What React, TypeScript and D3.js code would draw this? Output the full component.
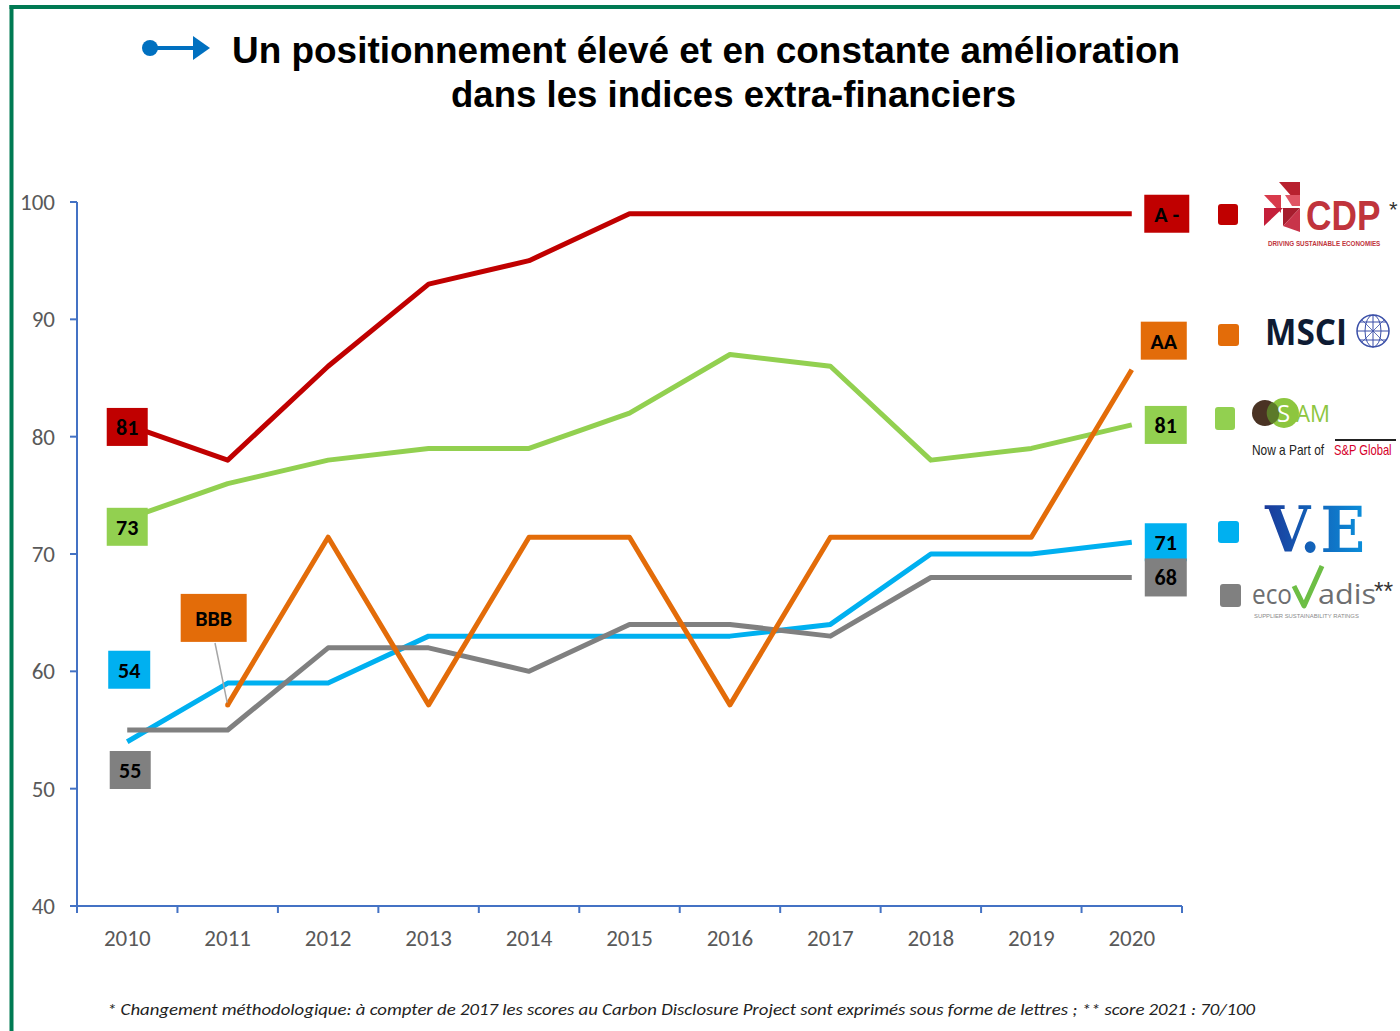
import React from "react";
import * as d3 from "d3";

const years = ["2010","2011","2012","2013","2014","2015","2016","2017","2018","2019","2020"];
const yTicks = [40, 50, 60, 70, 80, 90, 100];

const cdp = [81, 78, 86, 93, 95, 99, 99, 99, 99, 99, 99];
const sam = [73, 76, 78, 79, 79, 82, 87, 86, 78, 79, 81];
const msci: (number | null)[] = [null, 57.14, 71.43, 57.14, 71.43, 71.43, 57.14, 71.43, 71.43, 71.43, 85.71];
const ve = [54, 59, 59, 63, 63, 63, 63, 64, 70, 70, 71];
const ecovadis = [55, 55, 62, 62, 60, 64, 64, 63, 68, 68, 68];

const series = [
  { name: "CDP", color: "#C00000", values: cdp },
  { name: "SAM", color: "#92D050", values: sam },
  { name: "VE", color: "#00B0F0", values: ve },
  { name: "EcoVadis", color: "#808080", values: ecovadis },
  { name: "MSCI", color: "#E36C09", values: msci },
];

// data labels: year index, value, text, colour, offsets (dx, dy) relative to point
const labels = [
  { i: 0, v: 81, text: "81", color: "#C00000", dx: 0, dy: 2, w: 41 },
  { i: 0, v: 73, text: "73", color: "#92D050", dx: 0, dy: 8, w: 41 },
  { i: 0, v: 54, text: "54", color: "#00B0F0", dx: 2, dy: -72, w: 42 },
  { i: 0, v: 55, text: "55", color: "#808080", dx: 3, dy: 40, w: 41 },
  { i: 1, v: 57.14, text: "BBB", color: "#E36C09", dx: -14, dy: -87, w: 66, h: 48 },
  { i: 10, v: 99, text: "A -", color: "#C00000", dx: 35, dy: 0, w: 45 },
  { i: 10, v: 85.71, text: "AA", color: "#E36C09", dx: 32, dy: -29, w: 46 },
  { i: 10, v: 81, text: "81", color: "#92D050", dx: 34, dy: 0, w: 42 },
  { i: 10, v: 71, text: "71", color: "#00B0F0", dx: 34, dy: 0, w: 42 },
  { i: 10, v: 68, text: "68", color: "#808080", dx: 34, dy: 0, w: 42 },
];

const W = 1400, H = 1031;
const x = d3.scaleBand<string>().domain(years).range([77, 1182]);
const y = d3.scaleLinear().domain([40, 100]).range([906, 202]);
const cx = (i: number) => (x(years[i]) as number) + x.bandwidth() / 2;

const lineGen = d3
  .line<number | null>()
  .defined((d) => d !== null)
  .x((_, i) => cx(i))
  .y((d) => y(d as number));

const font = "Calibri, Carlito, 'Open Sans', 'Liberation Sans', sans-serif";

export default function App() {
  const boundaries = years.map((yr) => x(yr) as number).concat([x.range()[1]]);
  return (
    <div style={{ position: "absolute", left: 0, top: 0 }}>
      <svg width={W} height={H} style={{ display: "block", background: "#fff" }}>
        {/* frame */}
        <line x1={9.5} y1={7} x2={1400} y2={7} stroke="#007A53" strokeWidth={4} />
        <line x1={11.5} y1={5} x2={11.5} y2={1031} stroke="#007A53" strokeWidth={4} />

        {/* title arrow */}
        <circle cx={150} cy={48} r={8} fill="#0070C0" />
        <line x1={150} y1={48} x2={196} y2={48} stroke="#0070C0" strokeWidth={4} />
        <polygon points="193,36 210,48 193,60" fill="#0070C0" />
        <text x={232} y={63} fontFamily="'Liberation Sans', Arial, sans-serif" fontWeight="bold" fontSize={37} fill="#000" textLength={948} lengthAdjust="spacingAndGlyphs">
          Un positionnement élevé et en constante amélioration
        </text>
        <text x={451} y={107} fontFamily="'Liberation Sans', Arial, sans-serif" fontWeight="bold" fontSize={37} fill="#000" textLength={565} lengthAdjust="spacingAndGlyphs">
          dans les indices extra-financiers
        </text>

        {/* axes */}
        <line x1={77} y1={y(100)} x2={77} y2={y(40)} stroke="#4472C4" strokeWidth={2} />
        {yTicks.map((t) => (
          <g key={t}>
            <line x1={70} x2={77} y1={y(t)} y2={y(t)} stroke="#4472C4" strokeWidth={2} />
            <text x={55} y={y(t) + 8} textAnchor="end" fontFamily={font} fontSize={23} fill="#595959">
              {t}
            </text>
          </g>
        ))}
        <line x1={77} y1={y(40)} x2={1182} y2={y(40)} stroke="#4472C4" strokeWidth={2} />
        {boundaries.map((b, i) => (
          <line key={i} x1={b} x2={b} y1={y(40)} y2={y(40) + 7} stroke="#4472C4" strokeWidth={2} />
        ))}
        {years.map((yr, i) => (
          <text key={yr} x={cx(i)} y={946} textAnchor="middle" fontFamily={font} fontSize={23} fill="#595959">
            {yr}
          </text>
        ))}

        {/* lines */}
        {series.map((s) => (
          <path key={s.name} d={lineGen(s.values) || ""} fill="none" stroke={s.color} strokeWidth={5} strokeLinejoin="round" />
        ))}

        {/* BBB leader */}
        <line x1={215} y1={643} x2={cx(1)} y2={y(57.14)} stroke="#A6A6A6" strokeWidth={1.5} />
        <circle cx={cx(1)} cy={y(57.14)} r={2.5} fill="#E36C09" />

        {/* data labels */}
        {labels.map((l, k) => {
          const h = l.h ?? 38;
          const px = cx(l.i) + l.dx;
          const py = y(l.v) + l.dy;
          return (
            <g key={k}>
              <rect x={px - l.w / 2} y={py - h / 2} width={l.w} height={h} fill={l.color} />
              <text x={px} y={py + 8} textAnchor="middle" fontFamily={font} fontWeight="bold" fontSize={22} fill="#000">
                {l.text}
              </text>
            </g>
          );
        })}

        {/* legend squares */}
        <rect x={1218} y={204} width={20} height={21} rx={3} fill="#C00000" />
        <rect x={1218} y={324} width={21} height={22} rx={3} fill="#E36C09" />
        <rect x={1215} y={407} width={20} height={23} rx={3} fill="#92D050" />
        <rect x={1218} y={521} width={21} height={22} rx={3} fill="#00B0F0" />
        <rect x={1220} y={584} width={21} height={23} rx={3} fill="#808080" />

        {/* CDP logo */}
        <g>
          <polygon points="1279,182 1300,182 1300,206" fill="#B8212F" />
          <polygon points="1264,195 1281,195 1281,213" fill="#D83A4B" />
          <polygon points="1264,208 1283,208 1264,226" fill="#C41F3A" />
          <polygon points="1283,208 1300,208 1283,226" fill="#A61C2D" />
          <polygon points="1283,226 1300,208 1300,232" fill="#C8344A" />
          <polygon points="1285,195 1300,195 1300,206 1292,206" fill="#E05565" />
          <text transform="translate(1306,230) scale(0.84,1)" fontFamily="'Liberation Sans', Arial, sans-serif" fontSize={42} fontWeight="bold" fill="#C0343C">
            CDP
          </text>
          <text transform="translate(1268,246) scale(0.9,1)" fontFamily="'Liberation Sans', Arial, sans-serif" fontSize={7} fontWeight="bold" fill="#C0343C">
            DRIVING SUSTAINABLE ECONOMIES
          </text>
          <text x={1389} y={217} fontFamily="'Liberation Sans', Arial, sans-serif" fontSize={22} fill="#333">*</text>
        </g>

        {/* MSCI logo */}
        <g>
          <text x={1265} y={345} fontFamily="'Open Sans', 'Liberation Sans', sans-serif" fontWeight="bold" fontSize={36} fill="#0E1B33" textLength={82} lengthAdjust="spacingAndGlyphs">
            MSCI
          </text>
          <circle cx={1373} cy={331} r={16} fill="none" stroke="#3A4FA8" strokeWidth={1.5} />
          <ellipse cx={1373} cy={331} rx={8} ry={16} fill="none" stroke="#3A4FA8" strokeWidth={1} />
          <line x1={1357} x2={1389} y1={331} y2={331} stroke="#3A4FA8" strokeWidth={1} />
          <line x1={1373} x2={1373} y1={315} y2={347} stroke="#3A4FA8" strokeWidth={1} />
          <line x1={1360} x2={1386} y1={322} y2={322} stroke="#3A4FA8" strokeWidth={1} />
          <line x1={1360} x2={1386} y1={340} y2={340} stroke="#3A4FA8" strokeWidth={1} />
          <line x1={1362} x2={1384} y1={320} y2={342} stroke="#3A4FA8" strokeWidth={0.8} />
          <line x1={1384} x2={1362} y1={320} y2={342} stroke="#3A4FA8" strokeWidth={0.8} />
        </g>

        {/* SAM logo */}
        <g>
          <circle cx={1265} cy={413} r={13} fill="#4A3324" />
          <circle cx={1284} cy={413} r={15} fill="#8DC63F" />
          <path d="M1272,402 A14,14 0 0,0 1272,424 A12,12 0 0,0 1272,402 Z" fill="#5C7A2A" />
          <text x={1277} y={422} fontFamily="'Open Sans', 'Liberation Sans', sans-serif" fontSize={24} fill="#fff">S</text>
          <text x={1296} y={422} fontFamily="'Open Sans', 'Liberation Sans', sans-serif" fontSize={24} fill="#8DC63F" textLength={34} lengthAdjust="spacingAndGlyphs">AM</text>
          <text transform="translate(1252,455) scale(0.85,1)" fontFamily="'Liberation Sans', Arial, sans-serif" fontSize={14} fill="#222">
            Now a Part of
          </text>
          <line x1={1335} x2={1396} y1={440} y2={440} stroke="#222" strokeWidth={2} />
          <text transform="translate(1334,455) scale(0.8,1)" fontFamily="'Liberation Sans', Arial, sans-serif" fontSize={14} fill="#D6002A">
            S&amp;P Global
          </text>
        </g>

        {/* V.E logo */}
        <defs>
          <linearGradient id="veGrad" x1="0" x2="1" y1="0" y2="0">
            <stop offset="0%" stopColor="#1B3A9A" />
            <stop offset="100%" stopColor="#0A8FDB" />
          </linearGradient>
        </defs>
        <text x={1265} y={552} fontFamily="'DejaVu Serif', 'Liberation Serif', serif" fontWeight="bold" fontSize={64} fill="url(#veGrad)" textLength={100} lengthAdjust="spacingAndGlyphs">
          V.E
        </text>

        {/* EcoVadis logo */}
        <g>
          <text x={1252} y={604} fontFamily="'Open Sans', 'Liberation Sans', sans-serif" fontSize={28} fill="#6D6E70" textLength={40} lengthAdjust="spacingAndGlyphs">eco</text>
          <path d="M1294,586 L1304,606 L1322,566" fill="none" stroke="#6DBE45" strokeWidth={5} strokeLinejoin="round" />
          <text x={1318} y={604} fontFamily="'Open Sans', 'Liberation Sans', sans-serif" fontSize={28} fill="#6D6E70" textLength={58} lengthAdjust="spacingAndGlyphs">adis</text>
          <text transform="translate(1374,600) scale(0.95,1)" fontFamily="'Liberation Sans', Arial, sans-serif" fontSize={26} fill="#333">**</text>
          <text transform="translate(1254,618) scale(0.98,1)" fontFamily="'Liberation Sans', Arial, sans-serif" fontSize={6} fill="#8A8A8A">
            SUPPLIER SUSTAINABILITY RATINGS
          </text>
        </g>

        {/* footnote */}
        <text x={107} y={1015} fontFamily={font} fontStyle="italic" fontSize={17} fill="#222" textLength={1148} lengthAdjust="spacingAndGlyphs">
          * Changement méthodologique: à compter de 2017 les scores au Carbon Disclosure Project sont exprimés sous forme de lettres ; ** score 2021 : 70/100
        </text>
      </svg>
    </div>
  );
}
